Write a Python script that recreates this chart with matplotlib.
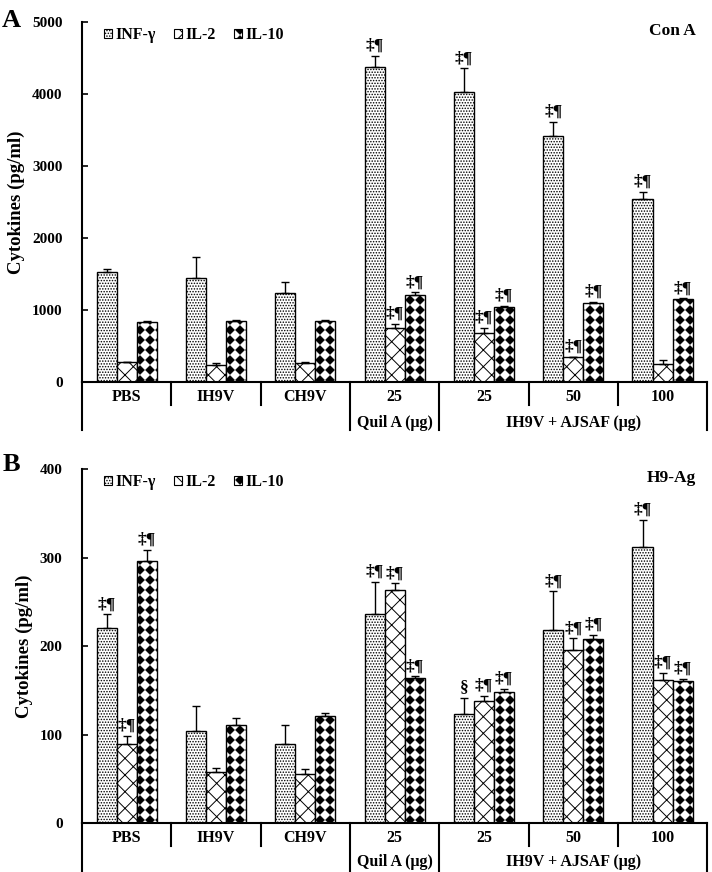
import numpy as np
import matplotlib
matplotlib.use('Agg')
import matplotlib.pyplot as plt
import matplotlib.hatch as mhatch
from matplotlib.path import Path
from matplotlib.patches import Patch

# Gruppen und Reihen
groups = ['PBS', 'IH9V', 'CH9V', '25', '25', '50', '100']
series = ['INF-γ', 'IL-2', 'IL-10']

# Con A (pg/ml)
cona_inf = [1530, 1440, 1240, 4370, 4030, 3420, 2545]
cona_inf_err = [35, 300, 145, 160, 325, 195, 100]
cona_il2 = [273, 236, 268, 755, 680, 343, 254]
cona_il2_err = [12, 25, 10, 50, 75, 10, 50]
cona_il10 = [835, 850, 845, 1205, 1040, 1100, 1148]
cona_il10_err = [18, 10, 12, 40, 15, 10, 15]
cona_marks_inf = ['', '', '', '‡¶', '‡¶', '‡¶', '‡¶']
cona_marks_il2 = ['', '', '', '‡¶', '‡¶', '‡¶', '']
cona_marks_il10 = ['', '', '', '‡¶', '‡¶', '‡¶', '‡¶']

# H9-Ag (pg/ml)
h9_inf = [221, 104, 90, 237, 124, 219, 312]
h9_inf_err = [15, 29, 21, 36, 18, 43, 31]
h9_il2 = [90, 58, 56, 264, 138, 196, 162]
h9_il2_err = [9, 5, 5, 7, 6, 13, 8]
h9_il10 = [296, 111, 121, 164, 148, 208, 161]
h9_il10_err = [13, 8, 4, 2, 4, 5, 2]
h9_marks_inf = ['‡¶', '', '', '‡¶', '§', '‡¶', '‡¶']
h9_marks_il2 = ['‡¶', '', '', '‡¶', '‡¶', '‡¶', '‡¶']
h9_marks_il10 = ['‡¶', '', '', '‡¶', '‡¶', '‡¶', '‡¶']


# eigenes Karomuster (schwarze Rauten), ersetzt den 'O'-Hatch
class DiamondHatch(mhatch.HatchPatternBase):
    def __init__(self, hatch, density):
        self.n = hatch.count('O') * 10
        self.num_vertices = 0 if self.n == 0 else (self.n + 1) ** 2 * 5

    def set_vertices_and_codes(self, vertices, codes):
        step = 1.0 / self.n
        r = step * 0.42
        shape = np.array([[r, 0], [0, r], [-r, 0], [0, -r], [r, 0]])
        k = 0
        for i in range(self.n + 1):
            for j in range(self.n + 1):
                vertices[k:k + 5] = shape + [i * step, j * step]
                codes[k:k + 5] = [Path.MOVETO, Path.LINETO, Path.LINETO,
                                  Path.LINETO, Path.CLOSEPOLY]
                k += 5


mhatch._hatch_types[:] = [DiamondHatch if h is mhatch.LargeCircles else h
                          for h in mhatch._hatch_types]

plt.rcParams['font.family'] = ['Liberation Serif', 'DejaVu Serif']
plt.rcParams['font.weight'] = 'bold'
plt.rcParams['axes.labelweight'] = 'bold'
plt.rcParams['hatch.linewidth'] = 0.7

hatches = ['......', 'xx', 'O']
w = 0.224
x = np.arange(len(groups))

fig = plt.figure(figsize=(7.12, 8.72), dpi=100)
axA = fig.add_axes([0.1152, 0.5619, 0.878, 0.4128])
axB = fig.add_axes([0.1152, 0.0558, 0.878, 0.406])


def draw_panel(ax, vals, errs, marks, ymax, step, name, short_y, long_y, lab1_y, lab2_y):
    for k in range(3):
        pos = x + (k - 1) * w
        ax.bar(pos, vals[k], w, color='white', edgecolor='black', linewidth=1.0,
               hatch=hatches[k], zorder=2)
        ax.errorbar(pos, vals[k], yerr=[np.zeros(len(groups)), errs[k]], fmt='none',
                    ecolor='black', elinewidth=1.0, capsize=3, capthick=1.0, zorder=3)
        for p, v, e, m in zip(pos, vals[k], errs[k], marks[k]):
            if m:
                ax.annotate(m, (p, v + e), xytext=(0, 1.5), textcoords='offset points',
                            ha='center', va='bottom', fontsize=12.5, fontweight='bold')

    ax.set_xlim(-0.5, len(groups) - 0.5)
    ax.set_ylim(0, ymax)
    ax.set_yticks(np.arange(0, ymax + 1, step))
    ax.tick_params(axis='y', direction='in', length=4, width=1.2, pad=14, labelsize=11)
    ax.set_xticks([])
    for s in ['top', 'right']:
        ax.spines[s].set_visible(False)
    ax.spines['left'].set_linewidth(1.5)
    ax.spines['bottom'].set_linewidth(1.5)

    # Trennlinien unter der Achse
    tr = ax.get_xaxis_transform()
    for b in np.arange(len(groups) + 1) - 0.5:
        low = long_y if b in (-0.5, 2.5, 3.5, 6.5) else short_y
        ax.plot([b, b], [0, low], color='black', lw=1.5, transform=tr, clip_on=False)
    for xi, g in zip(x, groups):
        ax.text(xi, lab1_y, g, transform=tr, ha='center', va='center', fontsize=11.5)
    ax.text(3, lab2_y, 'Quil A (μg)', transform=tr, ha='center', va='center', fontsize=11.5)
    ax.text(5, lab2_y, 'IH9V + AJSAF (μg)', transform=tr, ha='center', va='center', fontsize=11.5)

    ax.set_ylabel('Cytokines (pg/ml)', fontsize=13.5, fontweight='bold', labelpad=5)
    ax.text(0.982, 0.975, name, transform=ax.transAxes, ha='right', va='center', fontsize=12.5)

    handles = [Patch(facecolor='white', edgecolor='black', hatch=h, lw=0.8) for h in hatches]
    ax.legend(handles, series, loc='center left', bbox_to_anchor=(0.035, 0.964), ncol=3,
              frameon=False, fontsize=11.5, handlelength=0.5, handleheight=0.5,
              handletextpad=0.25, columnspacing=1.1, borderpad=0, borderaxespad=0)


draw_panel(axA, [cona_inf, cona_il2, cona_il10], [cona_inf_err, cona_il2_err, cona_il10_err],
           [cona_marks_inf, cona_marks_il2, cona_marks_il10], 5000, 1000, 'Con A',
           -23 / 360, -48 / 360, -15 / 360, -41 / 360)
draw_panel(axB, [h9_inf, h9_il2, h9_il10], [h9_inf_err, h9_il2_err, h9_il10_err],
           [h9_marks_inf, h9_marks_il2, h9_marks_il10], 400, 100, 'H9-Ag',
           -23 / 354, -49 / 354, -15 / 354, -39 / 354)

fig.text(0.003, 0.99, 'A', fontsize=19, fontweight='bold', va='top')
fig.text(0.003, 0.48, 'B', fontsize=19, fontweight='bold', va='top')

fig.savefig('out.png', dpi=100)
